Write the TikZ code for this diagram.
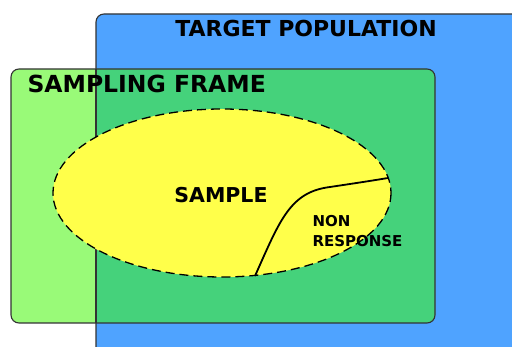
\documentclass[tikz,border=0pt]{standalone}
\usepackage{fontspec}
\setmainfont{DejaVu Sans}
\usepackage{tikz}
\usetikzlibrary{calc,positioning}

\definecolor{popblue}{HTML}{4FA3FF}
\definecolor{framegreen}{HTML}{99FA78}
\definecolor{overlapgreen}{HTML}{45D27B}
\definecolor{sampleyellow}{HTML}{FFFF4A}

\begin{document}
\begin{tikzpicture}[x=1pt, y=-1pt]
        \useasboundingbox (0,0) rectangle (512,347);
        % target population, running off the page
        \fill[popblue, rounded corners=8pt] (96,14) rectangle (530,360);
        \draw[black!80, line width=1.1pt, rounded corners=8pt]
              (96,360) -- (96,14) -- (530,14);
        % sampling frame
        \fill[framegreen, rounded corners=8pt] (11,69) rectangle (435,323);
        \begin{scope}
            \clip (96,14) rectangle (530,360);
            \fill[overlapgreen, rounded corners=8pt] (11,69) rectangle (435,323);
        \end{scope}
        \draw[black!80, line width=1.1pt, rounded corners=8pt]
              (11,69) rectangle (435,323);
        \draw[black!80, line width=1.1pt] (96,69) -- (96,323);
        % sample
        \fill[sampleyellow] (222,193) ellipse [x radius=169, y radius=84];
        \draw[dash pattern=on 9pt off 5pt, line width=1.3pt]
              (222,193) ellipse [x radius=169, y radius=84];
        \draw[line width=1.8pt] (255,276) .. controls (280,220) and (290,192) ..
              (330,187) .. controls (350,184) and (370,181) .. (388,178);
        % labels
        \node[font=\bfseries\fontsize{22}{24}\selectfont] (popname) at (306,28)
              {TARGET POPULATION};
        \node[font=\bfseries\fontsize{23.5}{26}\selectfont, anchor=west] (framename)
              at (24,84) {SAMPLING FRAME};
        \node[font=\bfseries\fontsize{20.5}{22}\selectfont] (samplename) at (221,195)
              {SAMPLE};
        \node[font=\bfseries\fontsize{15}{20}\selectfont, anchor=west, align=left]
              (nonresp) at (309,231) {NON\\RESPONSE};
    \end{tikzpicture}
\end{document}
